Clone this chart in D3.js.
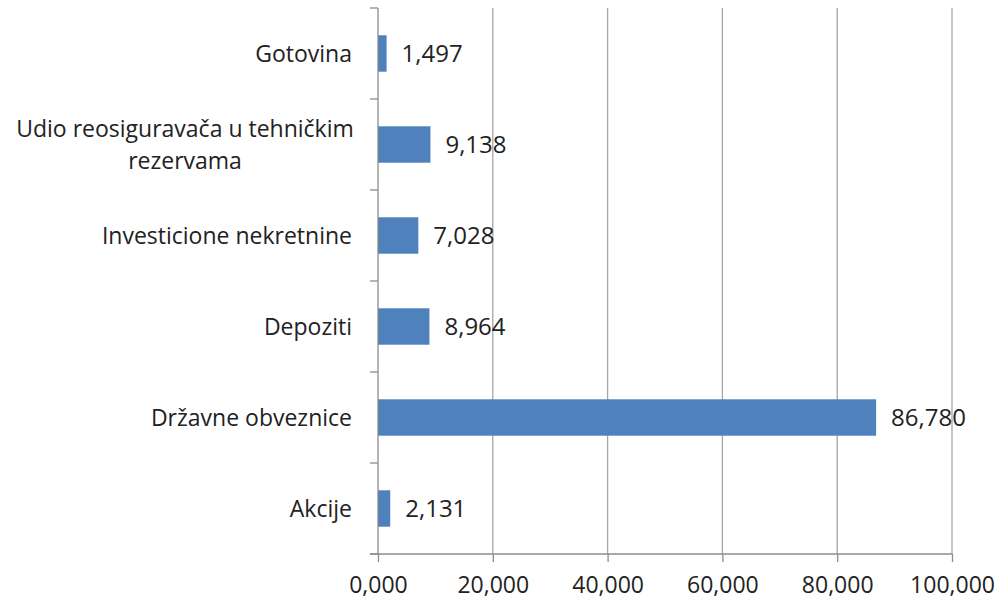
<!DOCTYPE html>
<html>
<head>
<meta charset="utf-8">
<script src="https://cdn.jsdelivr.net/npm/d3@7"></script>
<style>
  body { margin: 0; background: #fff; }
  text { font-family: "Open Sans", sans-serif; fill: #222; font-variant-ligatures: none; }
</style>
</head>
<body>
<svg id="chart" width="1000" height="603"></svg>
<script>
var categories = ["Gotovina", "Udio reosiguravača u tehničkim rezervama", "Investicione nekretnine", "Depoziti", "Državne obveznice", "Akcije"];
var labelLines = [["Gotovina"], ["Udio reosiguravača u tehničkim", "rezervama"], ["Investicione nekretnine"], ["Depoziti"], ["Državne obveznice"], ["Akcije"]];
var values = [1497, 9138, 7028, 8964, 86780, 2131];
var xTicks = [0, 20000, 40000, 60000, 80000, 100000];

var margin = {top: 8, right: 48, bottom: 49, left: 378};
var svg = d3.select("#chart");
var width = +svg.attr("width") - margin.left - margin.right;
var height = +svg.attr("height") - margin.top - margin.bottom;
var g = svg.append("g").attr("transform", "translate(" + margin.left + "," + margin.top + ")");

var x = d3.scaleLinear().domain([0, 100000]).range([0, width]);
var y = d3.scaleBand().domain(categories).range([0, height]).paddingInner(0.6).paddingOuter(0.3);
var band = d3.scaleBand().domain(categories).range([0, height]);

var fmt = function(v){ return d3.format(",")(v); };
var fmtTick = function(v){ return d3.format(",")(v / 1000) + ",000"; };

// gridlines
g.selectAll(".grid").data(xTicks.slice(1)).enter().append("line")
  .attr("x1", function(d){ return x(d); }).attr("x2", function(d){ return x(d); })
  .attr("y1", 0).attr("y2", height)
  .attr("stroke", "#a6a6a6").attr("stroke-width", 1.3);

// bars
g.selectAll(".bar").data(values).enter().append("rect")
  .attr("x", x(0))
  .attr("y", function(d, i){ return y(categories[i]); })
  .attr("width", function(d){ return x(d) - x(0); })
  .attr("height", y.bandwidth())
  .attr("fill", "#4f81bd");

// value labels
g.selectAll(".val").data(values).enter().append("text")
  .attr("x", function(d){ return x(d) + 15; })
  .attr("y", function(d, i){ return y(categories[i]) + y.bandwidth() / 2; })
  .attr("dy", "0.35em")
  .style("font-size", "24px")
  .text(fmt);

// y axis
var yAxis = g.append("g");
yAxis.append("line").attr("x1", 0).attr("x2", 0).attr("y1", 0).attr("y2", height)
  .attr("stroke", "#8c8c8c").attr("stroke-width", 1.3);
yAxis.selectAll(".cat-tick").data(d3.range(categories.length + 1)).enter().append("line")
  .attr("x1", -8).attr("x2", 0)
  .attr("y1", function(i){ return i * band.step(); })
  .attr("y2", function(i){ return i * band.step(); })
  .attr("stroke", "#8c8c8c").attr("stroke-width", 1.3);

// category labels
g.selectAll(".cat").data(labelLines).enter().append("text")
  .attr("text-anchor", function(d){ return d.length > 1 ? "middle" : "end"; })
  .attr("transform", function(d, i){
    var cy = band(categories[i]) + band.bandwidth() / 2;
    return "translate(" + (d.length > 1 ? -193 : -26) + "," + cy + ")";
  })
  .style("font-size", "23px")
  .each(function(lines){
    var t = d3.select(this);
    var n = lines.length;
    lines.forEach(function(l, k){
      t.append("tspan").attr("x", 0)
        .attr("y", (k - (n - 1) / 2) * 32)
        .attr("dy", "0.35em").text(l);
    });
  });

// x axis
var xAxis = g.append("g").attr("transform", "translate(0," + height + ")")
  .call(d3.axisBottom(x).tickValues(xTicks).tickSize(8).tickFormat(fmtTick).tickPadding(15));
xAxis.select(".domain").attr("stroke", "#8c8c8c").attr("stroke-width", 1.3).attr("d", "M-8,0H" + width);
xAxis.selectAll(".tick line").attr("stroke", "#8c8c8c").attr("stroke-width", 1.3);
xAxis.selectAll(".tick text").style("font-size", "23px").style("font-family", "'Open Sans', sans-serif").attr("fill", "#222");
</script>
</body>
</html>
